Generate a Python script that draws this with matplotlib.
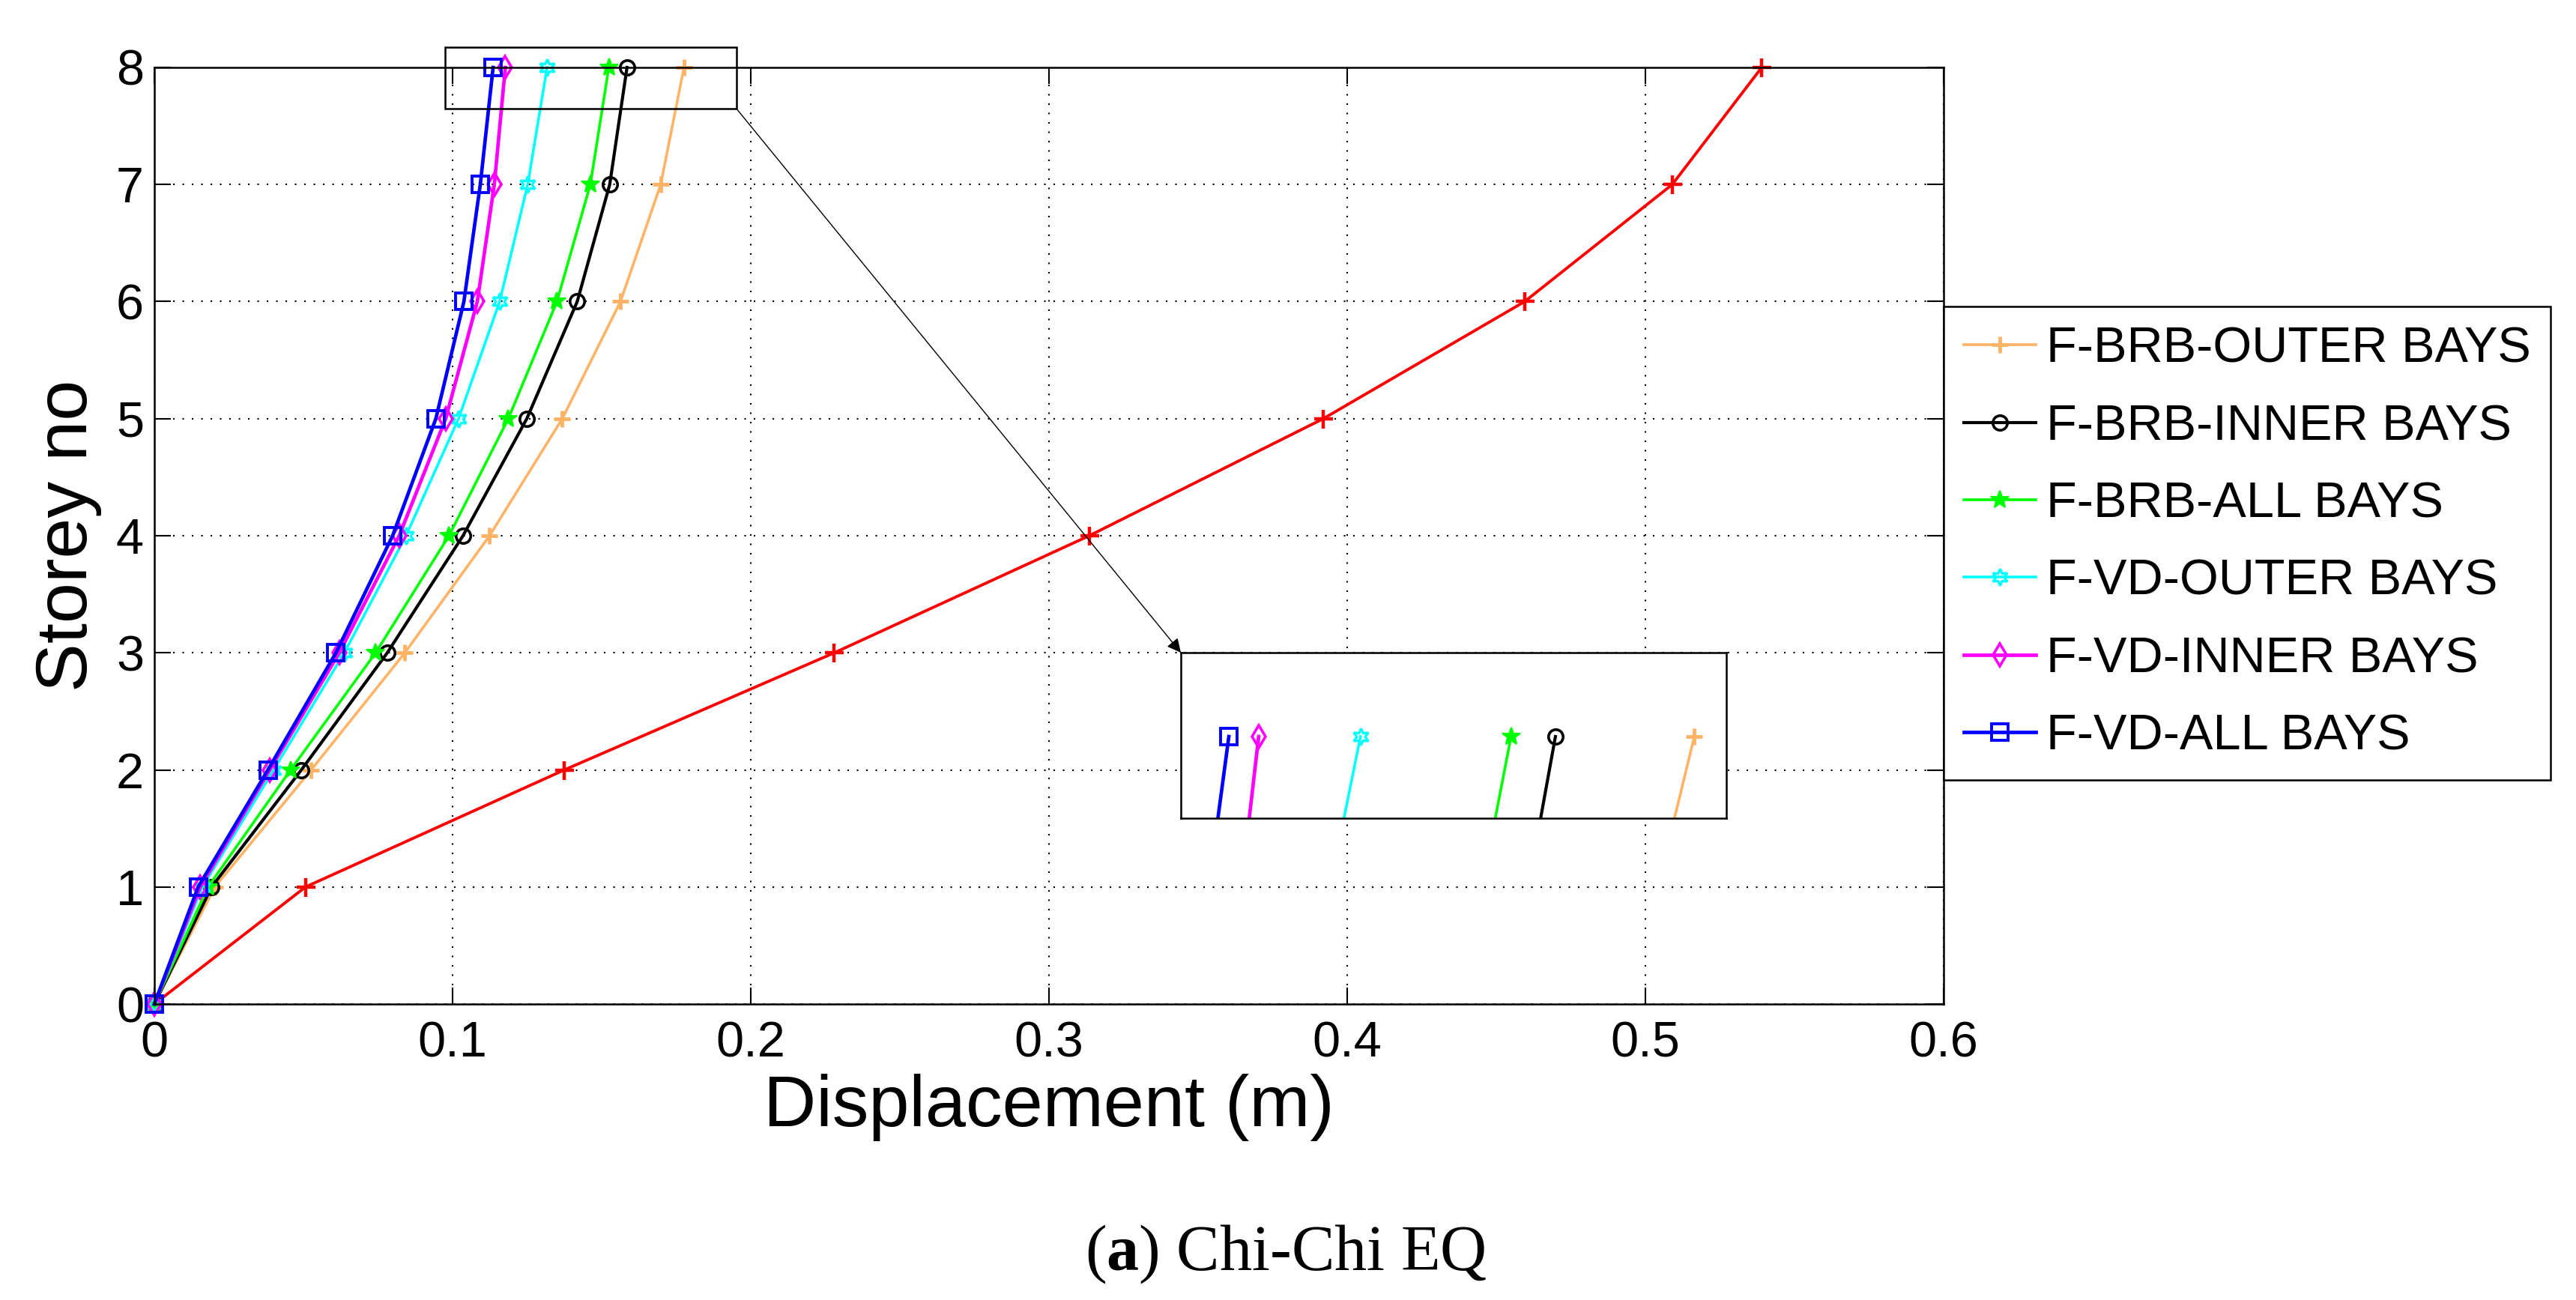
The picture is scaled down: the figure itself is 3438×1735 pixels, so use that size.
import matplotlib
matplotlib.use("Agg")
import matplotlib.pyplot as plt
from matplotlib.patches import Rectangle

plt.rcParams['font.family'] = ['Liberation Sans', 'DejaVu Sans']
plt.rcParams['mathtext.fontset'] = 'custom'
plt.rcParams['mathtext.rm'] = 'Liberation Serif'
plt.rcParams['mathtext.bf'] = 'Liberation Serif:bold'

# storey displacement profiles, Chi-Chi EQ
storeys = [0, 1, 2, 3, 4, 5, 6, 7, 8]
bare_frame = [0, 0.0507, 0.1375, 0.228, 0.3135, 0.392, 0.4595, 0.509, 0.539]
brb_outer = [0, 0.0203, 0.0526, 0.0840, 0.1124, 0.1368, 0.1563, 0.1698, 0.1776]
brb_inner = [0, 0.0192, 0.0493, 0.0781, 0.1035, 0.1249, 0.1418, 0.1527, 0.1585]
brb_all = [0, 0.0180, 0.0457, 0.0742, 0.0988, 0.1187, 0.1350, 0.1462, 0.1524]
vd_outer = [0, 0.0161, 0.0400, 0.0637, 0.0844, 0.1020, 0.1158, 0.1252, 0.1317]
vd_inner = [0, 0.0154, 0.0387, 0.0620, 0.0821, 0.0977, 0.1083, 0.1140, 0.1177]
vd_all = [0, 0.0147, 0.0381, 0.0609, 0.0799, 0.0944, 0.1038, 0.1093, 0.1136]

labels = ['F-BRB-OUTER BAYS', 'F-BRB-INNER BAYS', 'F-BRB-ALL BAYS',
          'F-VD-OUTER BAYS', 'F-VD-INNER BAYS', 'F-VD-ALL BAYS']
xticks = [0, 0.1, 0.2, 0.3, 0.4, 0.5, 0.6]
xtick_labels = ['0', '0.1', '0.2', '0.3', '0.4', '0.5', '0.6']
yticks = [0, 1, 2, 3, 4, 5, 6, 7, 8]

series = [brb_outer, brb_inner, brb_all, vd_outer, vd_inner, vd_all]
styles = [
    dict(color='#ffb366', marker='+', ms=16, mew=3.5, lw=2.6),
    dict(color='black', marker='o', ms=14, mew=2.6, mfc='none', lw=3),
    dict(color='#00ff00', marker='*', ms=18, mew=1.5, lw=2.6),
    dict(color='#00ffff', marker=(6, 1, 0), ms=16, mew=2.4, mfc='none', lw=2.6),
    dict(color='#ff00ff', marker='d', ms=15, mew=2.6, mfc='none', lw=3.4),
    dict(color='#0000ff', marker='s', ms=16, mew=2.8, mfc='none', lw=3.4),
]

fig = plt.figure(figsize=(34.38, 17.35), dpi=100)
ax = fig.add_axes([206 / 3438, 1 - 1340 / 1735, 2388 / 3438, 1250 / 1735])

ax.plot(bare_frame, storeys, color='#ff0000', marker='+', ms=18, mew=3.2, lw=2.8,
        label='_nolegend_', clip_on=False)
for vals, lab, st in zip(series, labels, styles):
    ax.plot(vals, storeys, label=lab, clip_on=False, **st)

ax.set_xlim(0, 0.6)
ax.set_ylim(0, 8)
ax.set_xticks(xticks)
ax.set_xticklabels(xtick_labels)
ax.set_yticks(yticks)
ax.grid(True, color='black', linestyle=(0, (1, 5)), lw=1.5)
ax.tick_params(direction='in', length=16, width=1.5, top=True, right=True,
               labelsize=48)
ax.tick_params(axis='x', pad=16)
ax.tick_params(axis='y', pad=10)
for s in ax.spines.values():
    s.set_linewidth(1.8)
ax.set_xlabel('Displacement (m)', fontsize=70, labelpad=6)
ax.set_ylabel('Storey no', fontsize=70, labelpad=14)

# zoom box around the top storey
ax.add_patch(Rectangle((0.0975, 7.648), 0.0977, 0.522, fill=False, ec='black',
                       lw=1.8, clip_on=False, zorder=5))

# inset with the magnified top storey
ax_in = fig.add_axes([1576 / 3438, 1 - 1092 / 1735, 728 / 3438, 221 / 1735])
for vals, st in zip(series, styles):
    ax_in.plot(vals, storeys, **st)
ax_in.set_xlim(0.107, 0.182)
ax_in.set_ylim(7.65, 8.36)
ax_in.set_xticks([])
ax_in.set_yticks([])
for s in ax_in.spines.values():
    s.set_linewidth(1.8)

ax.annotate('', xy=(0, 1), xycoords=ax_in.transAxes,
            xytext=(0.1952, 7.648), textcoords='data',
            arrowprops=dict(arrowstyle='-|>', color='black', lw=1,
                            mutation_scale=28, shrinkA=0, shrinkB=0),
            annotation_clip=False)

leg = fig.legend(loc='upper left', bbox_to_anchor=(2594 / 3438, 1 - 409 / 1735),
                 fontsize=48, frameon=True, fancybox=False, framealpha=1,
                 edgecolor='black', handlelength=1.45, handletextpad=0.2,
                 borderpad=0.4, labelspacing=0.62, borderaxespad=0)
leg.get_frame().set_linewidth(1.8)

fig.text(1716 / 3438, 1 - 1695 / 1735, r'($\mathbf{a}$) Chi-Chi EQ',
         fontsize=62, family='Liberation Serif', ha='center', va='baseline')

fig.savefig('out.png', dpi=100)
